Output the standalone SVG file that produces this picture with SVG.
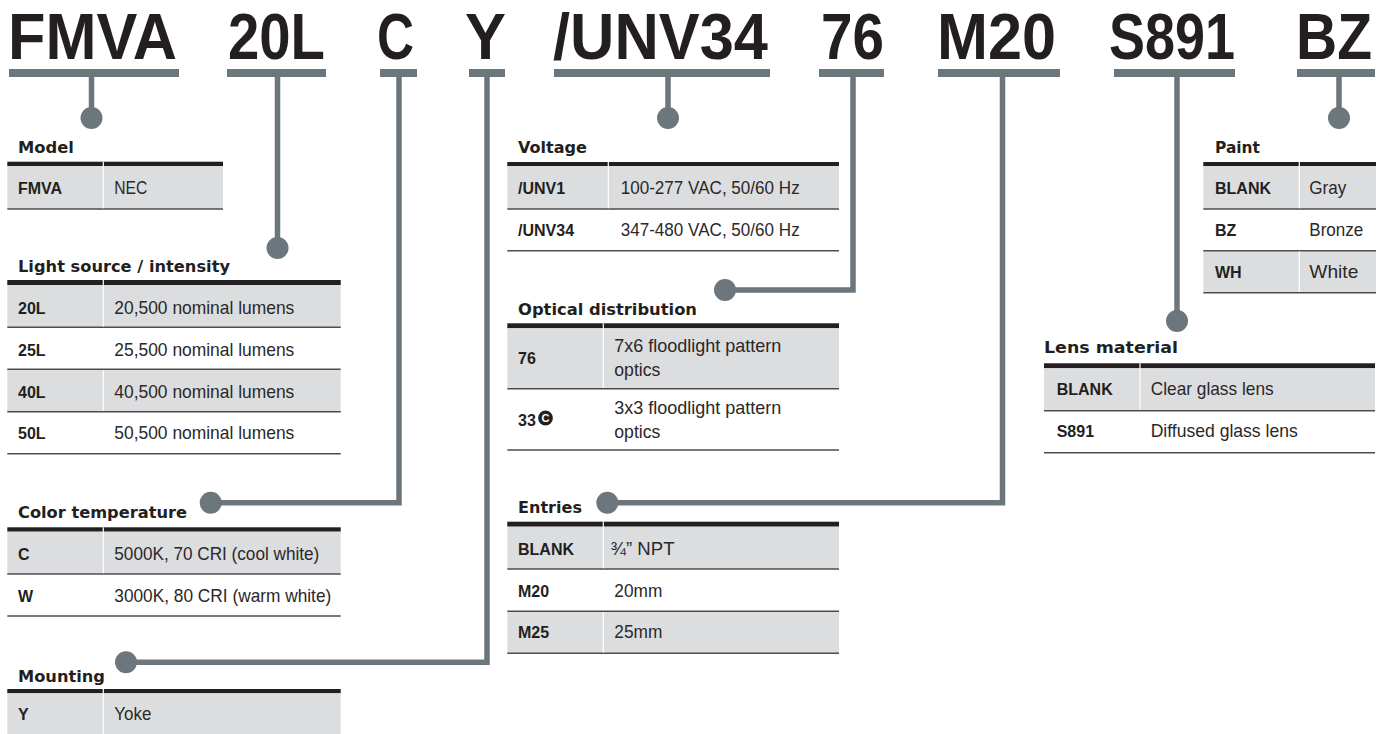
<svg xmlns="http://www.w3.org/2000/svg" width="1383" height="734" viewBox="0 0 1383 734">
<style>
.big{font-family:"Liberation Sans",Arial,sans-serif;font-weight:bold;font-size:65px;fill:#231f20}
.bar{fill:#6b767d}
.hdr{font-family:"DejaVu Sans","Liberation Sans",sans-serif;font-weight:bold;font-size:15px;fill:#231f20}
.code{font-family:"Liberation Sans",Arial,sans-serif;font-weight:bold;font-size:16px;fill:#231f20}
.desc{font-family:"Liberation Sans",Arial,sans-serif;font-size:18.5px;fill:#2b2829}
.thick{fill:#231f20}
.gray{fill:#dcdddf}
.sep{stroke:#4d4d4f;stroke-width:1.4}
.div{stroke:#ffffff;stroke-width:1.2}
.conn{fill:none;stroke:#6b767d;stroke-width:5.5}
.dot{fill:#6b767d}
</style>
<rect width="1383" height="734" fill="#ffffff"/>

<!-- header codes -->
<g id="code-FMVA"><text class="big" x="8" y="59" textLength="169" lengthAdjust="spacingAndGlyphs">FMVA</text><rect class="bar" x="9" y="69" width="170" height="8"/></g>
<g id="code-20L"><text class="big" x="228" y="59" textLength="97" lengthAdjust="spacingAndGlyphs">20L</text><rect class="bar" x="227" y="69" width="99" height="8"/></g>
<g id="code-C"><text class="big" x="377" y="59" textLength="37" lengthAdjust="spacingAndGlyphs">C</text><rect class="bar" x="380" y="69" width="37" height="8"/></g>
<g id="code-Y"><text class="big" x="465" y="59" textLength="41" lengthAdjust="spacingAndGlyphs">Y</text><rect class="bar" x="469" y="69" width="36" height="8"/></g>
<g id="code-UNV34"><text class="big" x="553" y="59" textLength="215" lengthAdjust="spacingAndGlyphs">/UNV34</text><rect class="bar" x="554" y="69" width="216" height="8"/></g>
<g id="code-76"><text class="big" x="821" y="59" textLength="63" lengthAdjust="spacingAndGlyphs">76</text><rect class="bar" x="819" y="69" width="65" height="8"/></g>
<g id="code-M20"><text class="big" x="937" y="59" textLength="119" lengthAdjust="spacingAndGlyphs">M20</text><rect class="bar" x="938" y="69" width="122" height="8"/></g>
<g id="code-S891"><text class="big" x="1109" y="59" textLength="126" lengthAdjust="spacingAndGlyphs">S891</text><rect class="bar" x="1114" y="69" width="121" height="8"/></g>
<g id="code-BZ"><text class="big" x="1296" y="59" textLength="76" lengthAdjust="spacingAndGlyphs">BZ</text><rect class="bar" x="1297" y="69" width="78" height="8"/></g>

<!-- connectors -->
<g id="connectors">
<path class="conn" d="M91.5,76 V118"/><circle class="dot" cx="91.5" cy="118" r="11"/>
<path class="conn" d="M277.5,76 V248"/><circle class="dot" cx="277.5" cy="248" r="11"/>
<path class="conn" d="M399,76 V502.7 H210.7"/><circle class="dot" cx="210.7" cy="502.7" r="11"/>
<path class="conn" d="M487,76 V662.3 H126"/><circle class="dot" cx="126" cy="662.3" r="11"/>
<path class="conn" d="M668,76 V118"/><circle class="dot" cx="668" cy="118" r="11"/>
<path class="conn" d="M853,76 V290 H725"/><circle class="dot" cx="725" cy="290" r="11"/>
<path class="conn" d="M1002.5,76 V502.7 H607.3"/><circle class="dot" cx="607.3" cy="502.7" r="11"/>
<path class="conn" d="M1177,76 V321"/><circle class="dot" cx="1177" cy="321" r="11"/>
<path class="conn" d="M1339,76 V118"/><circle class="dot" cx="1339" cy="118" r="11"/>
</g>

<!-- Model -->
<g id="tbl-model">
<text class="hdr" x="18" y="152.7" textLength="56" lengthAdjust="spacingAndGlyphs">Model</text>
<rect class="thick" x="7.3" y="161.7" width="215.7" height="4.3"/>
<rect class="gray" x="7.3" y="166" width="215.7" height="43"/>
<line class="sep" x1="7.3" y1="209" x2="223" y2="209"/>
<line class="div" x1="103.3" y1="161.7" x2="103.3" y2="208.3"/>
<text class="code" x="18" y="194">FMVA</text><text class="desc" x="114.3" y="194" textLength="33" lengthAdjust="spacingAndGlyphs">NEC</text>
</g>

<!-- Light source -->
<g id="tbl-light">
<text class="hdr" x="18" y="271.7" textLength="212" lengthAdjust="spacingAndGlyphs">Light source / intensity</text>
<rect class="thick" x="7.3" y="280" width="333.4" height="5"/>
<rect class="gray" x="7.3" y="285" width="333.4" height="42.3"/>
<rect class="gray" x="7.3" y="369.3" width="333.4" height="42.4"/>
<line class="sep" x1="7.3" y1="327.3" x2="340.7" y2="327.3"/>
<line class="sep" x1="7.3" y1="369.3" x2="340.7" y2="369.3"/>
<line class="sep" x1="7.3" y1="411.7" x2="340.7" y2="411.7"/>
<line class="sep" x1="7.3" y1="453.7" x2="340.7" y2="453.7"/>
<line class="div" x1="103.3" y1="280" x2="103.3" y2="326.6"/>
<line class="div" x1="103.3" y1="370" x2="103.3" y2="411"/>
<text class="code" x="18" y="314.3">20L</text><text class="desc" x="114.3" y="314.3" textLength="180" lengthAdjust="spacingAndGlyphs">20,500 nominal lumens</text>
<text class="code" x="18" y="356">25L</text><text class="desc" x="114.3" y="356" textLength="180" lengthAdjust="spacingAndGlyphs">25,500 nominal lumens</text>
<text class="code" x="18" y="397.7">40L</text><text class="desc" x="114.3" y="397.7" textLength="180" lengthAdjust="spacingAndGlyphs">40,500 nominal lumens</text>
<text class="code" x="18" y="439.3">50L</text><text class="desc" x="114.3" y="439.3" textLength="180" lengthAdjust="spacingAndGlyphs">50,500 nominal lumens</text>
</g>

<!-- Color temperature -->
<g id="tbl-color">
<text class="hdr" x="18" y="518.3" textLength="169" lengthAdjust="spacingAndGlyphs">Color temperature</text>
<rect class="thick" x="7.3" y="527.3" width="333.4" height="4.4"/>
<rect class="gray" x="7.3" y="531.7" width="333.4" height="42.3"/>
<line class="sep" x1="7.3" y1="574" x2="340.7" y2="574"/>
<line class="sep" x1="7.3" y1="616" x2="340.7" y2="616"/>
<line class="div" x1="103.3" y1="527.3" x2="103.3" y2="573.3"/>
<text class="code" x="18" y="560">C</text><text class="desc" x="114.3" y="560" textLength="205" lengthAdjust="spacingAndGlyphs">5000K, 70 CRI (cool white)</text>
<text class="code" x="18" y="601.7">W</text><text class="desc" x="114.3" y="601.7" textLength="217" lengthAdjust="spacingAndGlyphs">3000K, 80 CRI (warm white)</text>
</g>

<!-- Mounting -->
<g id="tbl-mounting">
<text class="hdr" x="18" y="681.7" textLength="87" lengthAdjust="spacingAndGlyphs">Mounting</text>
<rect class="thick" x="7.3" y="689" width="333.4" height="4.3"/>
<rect class="gray" x="7.3" y="693.3" width="333.4" height="40.7"/>
<line class="div" x1="103.3" y1="689" x2="103.3" y2="734"/>
<text class="code" x="18" y="720">Y</text><text class="desc" x="114.3" y="720" textLength="37" lengthAdjust="spacingAndGlyphs">Yoke</text>
</g>

<!-- Voltage -->
<g id="tbl-voltage">
<text class="hdr" x="518" y="152.7" textLength="69" lengthAdjust="spacingAndGlyphs">Voltage</text>
<rect class="thick" x="507.3" y="162" width="331.7" height="4"/>
<rect class="gray" x="507.3" y="166" width="331.7" height="43"/>
<line class="sep" x1="507.3" y1="209" x2="839" y2="209"/>
<line class="sep" x1="507.3" y1="250.7" x2="839" y2="250.7"/>
<line class="div" x1="608.3" y1="162" x2="608.3" y2="208.3"/>
<text class="code" x="518" y="194">/UNV1</text><text class="desc" x="620.7" y="194" textLength="179" lengthAdjust="spacingAndGlyphs">100-277 VAC, 50/60 Hz</text>
<text class="code" x="518" y="235.7">/UNV34</text><text class="desc" x="620.7" y="235.7" textLength="179" lengthAdjust="spacingAndGlyphs">347-480 VAC, 50/60 Hz</text>
</g>

<!-- Optical distribution -->
<g id="tbl-optical">
<text class="hdr" x="518" y="315" textLength="179" lengthAdjust="spacingAndGlyphs">Optical distribution</text>
<rect class="thick" x="507.3" y="323.3" width="331.7" height="5"/>
<rect class="gray" x="507.3" y="328.3" width="331.7" height="60.4"/>
<line class="sep" x1="507.3" y1="388.7" x2="839" y2="388.7"/>
<line class="sep" x1="507.3" y1="450" x2="839" y2="450"/>
<line class="div" x1="603.3" y1="323.3" x2="603.3" y2="388"/>
<text class="code" x="518" y="364">76</text>
<text class="desc" x="614.3" y="352" textLength="167" lengthAdjust="spacingAndGlyphs">7x6 floodlight pattern</text>
<text class="desc" x="614.3" y="376" textLength="46" lengthAdjust="spacingAndGlyphs">optics</text>
<text class="code" x="518" y="426">33</text>
<circle cx="545.5" cy="418" r="7.4" fill="#231f20"/>
<text x="545.6" y="422" text-anchor="middle" font-family="Liberation Sans,Arial,sans-serif" font-weight="bold" font-size="11" fill="#ffffff">C</text>
<text class="desc" x="614.3" y="414" textLength="167" lengthAdjust="spacingAndGlyphs">3x3 floodlight pattern</text>
<text class="desc" x="614.3" y="438" textLength="46" lengthAdjust="spacingAndGlyphs">optics</text>
</g>

<!-- Entries -->
<g id="tbl-entries">
<text class="hdr" x="518" y="513.3" textLength="64" lengthAdjust="spacingAndGlyphs">Entries</text>
<rect class="thick" x="507.3" y="521.7" width="331.7" height="5"/>
<rect class="gray" x="507.3" y="526.7" width="331.7" height="42.3"/>
<rect class="gray" x="507.3" y="611.3" width="331.7" height="42"/>
<line class="sep" x1="507.3" y1="569" x2="839" y2="569"/>
<line class="sep" x1="507.3" y1="611.3" x2="839" y2="611.3"/>
<line class="sep" x1="507.3" y1="653.3" x2="839" y2="653.3"/>
<line class="div" x1="603.3" y1="521.7" x2="603.3" y2="568.3"/>
<line class="div" x1="603.3" y1="612" x2="603.3" y2="652.6"/>
<text class="code" x="518" y="555">BLANK</text><text class="desc" x="610.5" y="555" textLength="64" lengthAdjust="spacingAndGlyphs">¾” NPT</text>
<text class="code" x="518" y="596.7">M20</text><text class="desc" x="614.3" y="596.7" textLength="48" lengthAdjust="spacingAndGlyphs">20mm</text>
<text class="code" x="518" y="638.3">M25</text><text class="desc" x="614.3" y="638.3" textLength="48" lengthAdjust="spacingAndGlyphs">25mm</text>
</g>

<!-- Paint -->
<g id="tbl-paint">
<text class="hdr" x="1215" y="152.7" textLength="45" lengthAdjust="spacingAndGlyphs">Paint</text>
<rect class="thick" x="1203.3" y="162" width="172.7" height="4"/>
<rect class="gray" x="1203.3" y="166" width="172.7" height="43"/>
<rect class="gray" x="1203.3" y="250.7" width="172.7" height="42"/>
<line class="sep" x1="1203.3" y1="209" x2="1376" y2="209"/>
<line class="sep" x1="1203.3" y1="250.7" x2="1376" y2="250.7"/>
<line class="sep" x1="1203.3" y1="292.7" x2="1376" y2="292.7"/>
<line class="div" x1="1299.3" y1="162" x2="1299.3" y2="208.3"/>
<line class="div" x1="1299.3" y1="251.4" x2="1299.3" y2="292"/>
<text class="code" x="1215" y="194">BLANK</text><text class="desc" x="1309.3" y="194" textLength="37" lengthAdjust="spacingAndGlyphs">Gray</text>
<text class="code" x="1215" y="235.7">BZ</text><text class="desc" x="1309.3" y="235.7" textLength="54" lengthAdjust="spacingAndGlyphs">Bronze</text>
<text class="code" x="1215" y="277.7">WH</text><text class="desc" x="1309.3" y="277.7" textLength="49" lengthAdjust="spacingAndGlyphs">White</text>
</g>

<!-- Lens material -->
<g id="tbl-lens">
<text class="hdr" x="1044" y="353.3" textLength="134" lengthAdjust="spacingAndGlyphs">Lens material</text>
<rect class="thick" x="1044" y="363.3" width="331" height="5"/>
<rect class="gray" x="1044" y="368.3" width="331" height="42.4"/>
<line class="sep" x1="1044" y1="410.7" x2="1375" y2="410.7"/>
<line class="sep" x1="1044" y1="452.7" x2="1375" y2="452.7"/>
<line class="div" x1="1140" y1="363.3" x2="1140" y2="410"/>
<text class="code" x="1056.7" y="395">BLANK</text><text class="desc" x="1150.7" y="395" textLength="123" lengthAdjust="spacingAndGlyphs">Clear glass lens</text>
<text class="code" x="1056.7" y="436.7">S891</text><text class="desc" x="1150.7" y="436.7" textLength="147" lengthAdjust="spacingAndGlyphs">Diffused glass lens</text>
</g>
</svg>
